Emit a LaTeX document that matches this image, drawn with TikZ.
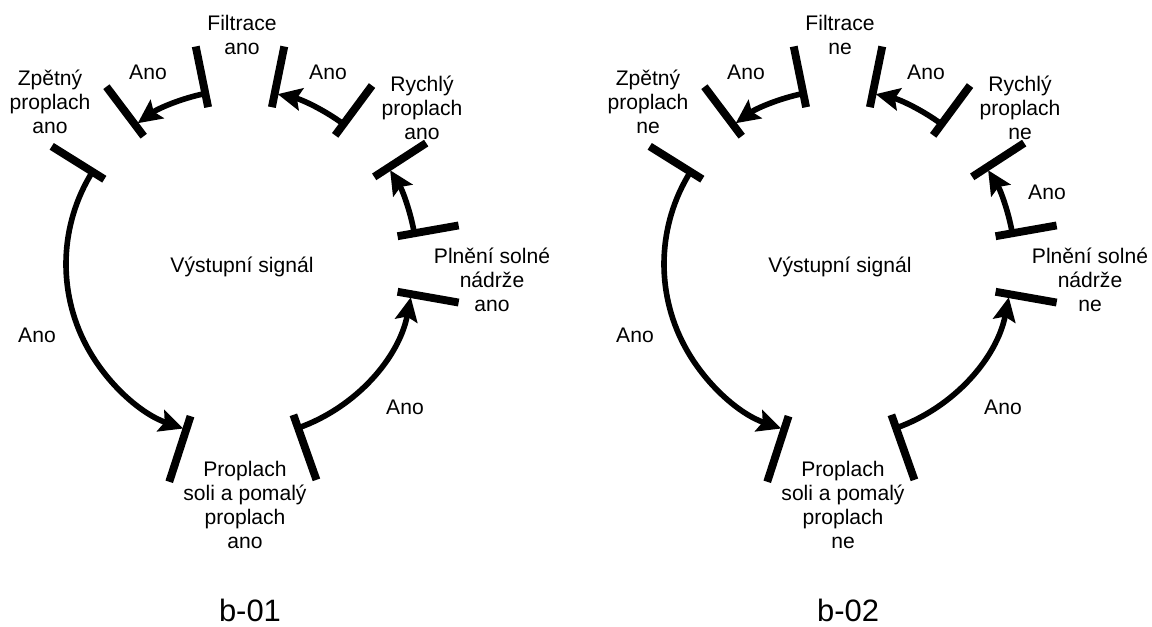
\documentclass[tikz,border=0pt]{standalone}
\usepackage{fontspec}
\setmainfont{Liberation Sans}
\usepackage{tikz}
\usetikzlibrary{arrows.meta,positioning}

\tikzset{
  bar/.style={line width=5.6pt},
  flow/.style={line width=4pt,-{Stealth[length=17pt,width=16pt,inset=3pt]}},
  lbl/.style={font=\fontsize{15}{17}\selectfont,align=center,inner sep=0pt},
  tag/.style={font=\fontsize{22}{26}\selectfont,inner sep=0pt}
}

% one cycle: #1 centre x, #2 state word, #3 number
\newcommand{\drawcycle}[3]{%
 \begin{scope}[shift={(#1,362)}]
 % state bars
 \foreach \a in {101.5,78.5,127,148,53.5,33,10,-10}
   \draw[bar] (\a:160) -- (\a:222);
 \foreach \a in {-108,-70.5}
   \draw[bar] (\a:160) -- (\a:229);
 % nodes
 \node[lbl] (filtrace#3) at (2,229) {Filtrace\\#2};
 \node[lbl] (zpetny#3) at (-190,162) {Zpětný\\proplach\\#2};
 \node[lbl] (rychly#3) at (182,156) {Rychlý\\proplach\\#2};
 \node[lbl] (plneni#3) at (252,-16) {Plnění solné\\nádrže\\#2};
 \node[lbl] (proplach#3) at (5,-241) {Proplach\\soli a pomalý\\proplach\\#2};
 \node[lbl] (signal#3) at (2,-3) {Výstupní signál};
 \node[lbl] (anoA#3) at (-92,192) {Ano};
 \node[lbl] (anoB#3) at (88,192) {Ano};
 \node[lbl] (anoC#3) at (-203,-71) {Ano};
 \node[lbl] (anoD#3) at (165,-143) {Ano};
 \node[tag] (tag#3) at (10,-346) {b-#3};
 % edges
 \coordinate (f#3) at (101.5:174);
 \coordinate (z#3) at (148:174);
 \coordinate (p#3) at (-70.5:174);
 \coordinate (n#3) at (10:177);
 \coordinate (r#3) at (53.5:174);
 \draw[flow] (f#3) arc[start angle=101.5,end angle=126,radius=174];
 \draw[flow] (z#3) arc[start angle=148,end angle=251,radius=174];
 \draw[flow] (p#3) arc[start angle=-70.5,end angle=-11,radius=174];
 \draw[flow] (n#3) arc[start angle=10,end angle=32,radius=177];
 \draw[flow] (r#3) arc[start angle=53.5,end angle=77.5,radius=174];
 \end{scope}}

\begin{document}
\begin{tikzpicture}[x=0.025cm,y=0.025cm]
 \useasboundingbox (0,0) rectangle (1152,626);

 \drawcycle{240}{ano}{01}
 \drawcycle{838}{ne}{02}

 \node[lbl] (anoE02) at (1047,434) {Ano};
\end{tikzpicture}
\end{document}
